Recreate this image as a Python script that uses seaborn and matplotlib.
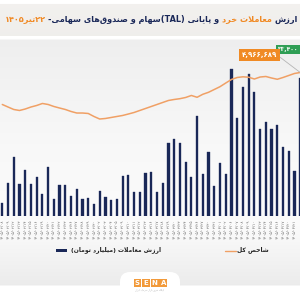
import re
import numpy as np
import pandas as pd
import matplotlib
matplotlib.use("Agg")
import matplotlib.pyplot as plt
import seaborn as sns
from matplotlib.patches import Rectangle, FancyBboxPatch

# ---------------- data ----------------
dates = ["1405/02/08", "1405/02/09", "1405/02/12", "1405/02/13", "1405/02/14", "1405/02/15",
         "1405/02/16", "1405/02/19", "1405/02/20", "1405/02/21", "1405/02/22", "1405/02/23",
         "1405/02/26", "1405/02/27", "1405/02/28", "1405/02/29", "1405/02/30", "1405/03/02",
         "1405/03/03", "1405/03/04", "1405/03/05", "1405/03/09", "1405/03/10", "1405/03/11",
         "1405/03/12", "1405/03/13", "1405/03/16", "1405/03/17", "1405/03/18", "1405/03/19",
         "1405/03/20", "1405/03/23", "1405/03/24", "1405/03/25", "1405/03/26", "1405/03/27",
         "1405/03/30", "1405/03/31", "1405/04/01", "1405/04/02", "1405/04/06", "1405/04/07",
         "1405/04/08", "1405/04/09", "1405/04/10", "1405/04/13", "1405/04/14", "1405/04/15",
         "1405/04/16", "1405/04/17", "1405/04/20", "1405/04/21", "1405/04/22"]

trade_value = [3220, 8060, 14350, 7670, 11130, 7670, 9370, 5320, 11790, 4040,
               7500, 7500, 4910, 6460, 4040, 4430, 2830, 6120, 4670, 3870,
               4110, 9750, 9920, 5740, 5740, 10480, 10720, 5880, 7910, 17590,
               18560, 17590, 13000, 9370, 24200, 10160, 15370, 7260, 12750, 10160,
               35500, 23640, 31290, 34290, 30080, 21050, 22750, 21050, 22020, 16770,
               15800, 10890, 33400]

index_value = [4487000, 4449000, 4412000, 4397000, 4419000, 4449000, 4472000, 4502000,
               4487000, 4457000, 4434000, 4412000, 4382000, 4359000, 4359000, 4352000,
               4307000, 4269000, 4277000, 4292000, 4307000, 4322000, 4344000, 4367000,
               4397000, 4427000, 4457000, 4487000, 4517000, 4547000, 4562000, 4574000,
               4592000, 4622000, 4595000, 4640000, 4670000, 4712000, 4754000, 4809000,
               4862000, 4892000, 4902000, 4896000, 4869000, 4899000, 4907000, 4884000,
               4865000, 4892000, 4922000, 4952000, 4966689]

title_parts = ["ارزش", "معاملات خرد", "و پایانی (TAL)سهام و صندوق\u200cهای سهامی-", "۲۲تیر۱۴۰۵"]
legend_bar = "ارزش معاملات (میلیارد تومان)"
legend_line = "شاخص کل"
logo_letters = ["S", "E", "N", "A"]
logo_sub = "پایگاه خبری بازار سرمایه ایران"

# ---------------- persian text helpers ----------------
FA_DIGITS = str.maketrans("0123456789", "۰۱۲۳۴۵۶۷۸۹")


def _f(*codes):
    return "".join(chr(c) for c in codes)


DUAL = {
    "ب": _f(0xFE8F, 0xFE90, 0xFE91, 0xFE92), "پ": _f(0xFB56, 0xFB57, 0xFB58, 0xFB59),
    "ت": _f(0xFE95, 0xFE96, 0xFE97, 0xFE98), "ث": _f(0xFE99, 0xFE9A, 0xFE9B, 0xFE9C),
    "ج": _f(0xFE9D, 0xFE9E, 0xFE9F, 0xFEA0), "چ": _f(0xFB7A, 0xFB7B, 0xFB7C, 0xFB7D),
    "ح": _f(0xFEA1, 0xFEA2, 0xFEA3, 0xFEA4), "خ": _f(0xFEA5, 0xFEA6, 0xFEA7, 0xFEA8),
    "س": _f(0xFEB1, 0xFEB2, 0xFEB3, 0xFEB4), "ش": _f(0xFEB5, 0xFEB6, 0xFEB7, 0xFEB8),
    "ص": _f(0xFEB9, 0xFEBA, 0xFEBB, 0xFEBC), "ض": _f(0xFEBD, 0xFEBE, 0xFEBF, 0xFEC0),
    "ط": _f(0xFEC1, 0xFEC2, 0xFEC3, 0xFEC4), "ظ": _f(0xFEC5, 0xFEC6, 0xFEC7, 0xFEC8),
    "ع": _f(0xFEC9, 0xFECA, 0xFECB, 0xFECC), "غ": _f(0xFECD, 0xFECE, 0xFECF, 0xFED0),
    "ف": _f(0xFED1, 0xFED2, 0xFED3, 0xFED4), "ق": _f(0xFED5, 0xFED6, 0xFED7, 0xFED8),
    "ک": _f(0xFB8E, 0xFB8F, 0xFB90, 0xFB91), "گ": _f(0xFB92, 0xFB93, 0xFB94, 0xFB95),
    "ل": _f(0xFEDD, 0xFEDE, 0xFEDF, 0xFEE0), "م": _f(0xFEE1, 0xFEE2, 0xFEE3, 0xFEE4),
    "ن": _f(0xFEE5, 0xFEE6, 0xFEE7, 0xFEE8), "ه": _f(0xFEE9, 0xFEEA, 0xFEEB, 0xFEEC),
    "ی": _f(0xFBFC, 0xFBFD, 0xFBFE, 0xFBFF), "ئ": _f(0xFE89, 0xFE8A, 0xFE8B, 0xFE8C),
}
RIGHT = {
    "ا": _f(0xFE8D, 0xFE8E), "آ": _f(0xFE81, 0xFE82), "د": _f(0xFEA9, 0xFEAA),
    "ذ": _f(0xFEAB, 0xFEAC), "ر": _f(0xFEAD, 0xFEAE), "ز": _f(0xFEAF, 0xFEB0),
    "ژ": _f(0xFB8A, 0xFB8B), "و": _f(0xFEED, 0xFEEE),
}


def shape(s):
    out = []
    i, n = 0, len(s)
    while i < n:
        c = s[i]
        if c in DUAL or c in RIGHT:
            pj = i > 0 and s[i - 1] in DUAL
            if c == "ل" and i + 1 < n and s[i + 1] in ("ا", "آ"):
                if s[i + 1] == "ا":
                    out.append("\uFEFC" if pj else "\uFEFB")
                else:
                    out.append("\uFEF6" if pj else "\uFEF5")
                i += 2
                continue
            nxt = s[i + 1] if i + 1 < n else ""
            nj = c in DUAL and (nxt in DUAL or nxt in RIGHT)
            forms = DUAL.get(c) or RIGHT[c]
            if pj and nj:
                out.append(forms[3])
            elif pj:
                out.append(forms[1])
            elif nj:
                out.append(forms[2])
            else:
                out.append(forms[0])
        elif c == "\u200c":
            pass
        else:
            out.append(c)
        i += 1
    return "".join(out)


LTR = re.compile(r"[A-Za-z0-9\u06F0-\u06F9]+(?:[,./][A-Za-z0-9\u06F0-\u06F9]+)*")


def visual(s):
    s = shape(s)
    tokens, pos = [], 0
    for m in LTR.finditer(s):
        tokens.extend(list(s[pos:m.start()]))
        tokens.append(m.group())
        pos = m.end()
    tokens.extend(list(s[pos:]))
    tokens.reverse()
    mirror = {"(": ")", ")": "("}
    return "".join(mirror.get(t, t) for t in tokens)


# ---------------- figure ----------------
sns.set_theme(style="white")
plt.rcParams["font.family"] = ["DejaVu Sans"]

NAVY = "#1a2858"
ORANGE = "#f08a24"
LINE_C = "#f0a065"

fig = plt.figure(figsize=(3, 3), dpi=100)
fig.patch.set_facecolor("white")

# background (pixel coordinates, y down)
bg = fig.add_axes([0, 0, 1, 1], zorder=-10)
ys = np.arange(300)
stops_y = [0, 3, 4, 35, 36, 38, 40, 150, 225, 284, 286, 300]
stops_r = [1.0, 1.0, 0.95, 0.94, 1.0, 1.0, 0.935, 0.975, 0.985, 0.925, 1.0, 1.0]
stops_g = [1.0, 1.0, 0.945, 0.935, 1.0, 1.0, 0.935, 0.975, 0.985, 0.925, 1.0, 1.0]
stops_b = [1.0, 1.0, 0.935, 0.925, 1.0, 1.0, 0.935, 0.975, 0.985, 0.925, 1.0, 1.0]
grad = np.stack([np.interp(ys, stops_y, stops_r),
                 np.interp(ys, stops_y, stops_g),
                 np.interp(ys, stops_y, stops_b)], axis=-1)[:, None, :]
bg.imshow(grad, aspect="auto", extent=[0, 300, 300, 0], interpolation="bilinear")
bg.set_xlim(0, 300)
bg.set_ylim(300, 0)
bg.axis("off")

# white tab + logo
bg.add_patch(FancyBboxPatch((120, 272), 60, 40, boxstyle="round,pad=0,rounding_size=10",
                            fc="white", ec="none"))
for k, L in enumerate(logo_letters):
    x0 = 133.5 + k * 8.6
    bg.add_patch(Rectangle((x0, 279), 7.9, 7.9, fc="#f29a3a", ec="none"))
    bg.text(x0 + 3.95, 283.1, L, ha="center", va="center", fontsize=5, color="white",
            weight="bold")
bg.text(150, 289.6, visual(logo_sub), ha="center", va="center", fontsize=1.6, color="#999999")

# main bar axes
y_base, y_top = 216, 40
rect = [0, (300 - y_base) / 300, 1, (y_base - y_top) / 300]
ax = fig.add_axes(rect)
ax.patch.set_alpha(0)
df = pd.DataFrame({"date": [d.translate(FA_DIGITS) for d in dates], "value": trade_value})
sns.barplot(data=df, x="date", y="value", color=NAVY, saturation=1, width=0.38,
            edgecolor=NAVY, linewidth=0.25, ax=ax)
ax.set_xlim(-0.40, 51.96)
ax.set_ylim(0, 42592)
ax.set_xlabel("")
ax.set_ylabel("")
ax.set_yticks([])
ax.tick_params(axis="x", length=0, pad=2.5)
for lab in ax.get_xticklabels():
    lab.set_rotation(90)
    lab.set_fontsize(2.8)
    lab.set_color("#666666")
for s in ax.spines.values():
    s.set_visible(False)

# index line axes
ax2 = fig.add_axes(rect)
ax2.patch.set_alpha(0)
sns.lineplot(x=np.arange(len(index_value)), y=index_value, ax=ax2, color=LINE_C, lw=1.1)
ax2.set_xlim(-0.40, 51.96)
ax2.set_ylim(2814189, 5454189)
ax2.axis("off")

last = len(index_value) - 1
ann_txt = f"{index_value[-1]:,}".translate(FA_DIGITS)
ax2.annotate(ann_txt, xy=(last, index_value[-1]), xycoords="data",
             xytext=(259.5, 55), textcoords=bg.transData,
             ha="center", va="center", fontsize=5, color="white", weight="bold",
             bbox=dict(boxstyle="square,pad=0.45", fc=ORANGE, ec="none"),
             arrowprops=dict(arrowstyle="-", color="#b5b5b5", lw=0.6,
                             shrinkA=0, shrinkB=0, relpos=(1, 0.5)),
             annotation_clip=False)
bar_txt = f"{trade_value[-1]:,}".translate(FA_DIGITS)
bg.text(298.5, 49.5, bar_txt, ha="right", va="center", fontsize=4.3, color="white",
        weight="bold", bbox=dict(boxstyle="square,pad=0.35", fc="#2f9e55", ec="none"))

# legend
bg.add_patch(Rectangle((56, 248.5), 11, 3.6, fc=NAVY, ec="none"))
bg.text(71, 249.6, visual(legend_bar), ha="left", va="center", fontsize=4.3,
        color="#222222", weight="bold")
bg.plot([225, 236], [250.6, 250.6], color=LINE_C, lw=1.0)
bg.text(237, 249.6, visual(legend_line), ha="left", va="center", fontsize=4.3,
        color="#222222", weight="bold")

# title (right to left, multi-colour), fitted inside the figure width
renderer = fig.canvas.get_renderer()
colors = [NAVY, ORANGE, NAVY, ORANGE]


def title_width(fs):
    total = 0
    for p in title_parts:
        t = bg.text(0, 0, visual(p), fontsize=fs, weight="bold")
        total += t.get_window_extent(renderer).width
        t.remove()
    return total + 3 * 0.33 * fs * 100 / 72


fs = 8.0
fs = fs * 296 / title_width(fs)
x_right = 298
gap = 0.33 * fs * 100 / 72
for p, c in zip(title_parts, colors):
    t = bg.text(x_right, 19.5, visual(p), ha="right", va="center", fontsize=fs,
                weight="bold", color=c)
    w = t.get_window_extent(renderer).width
    x_right -= w + gap

fig.savefig("out.png", dpi=100)
